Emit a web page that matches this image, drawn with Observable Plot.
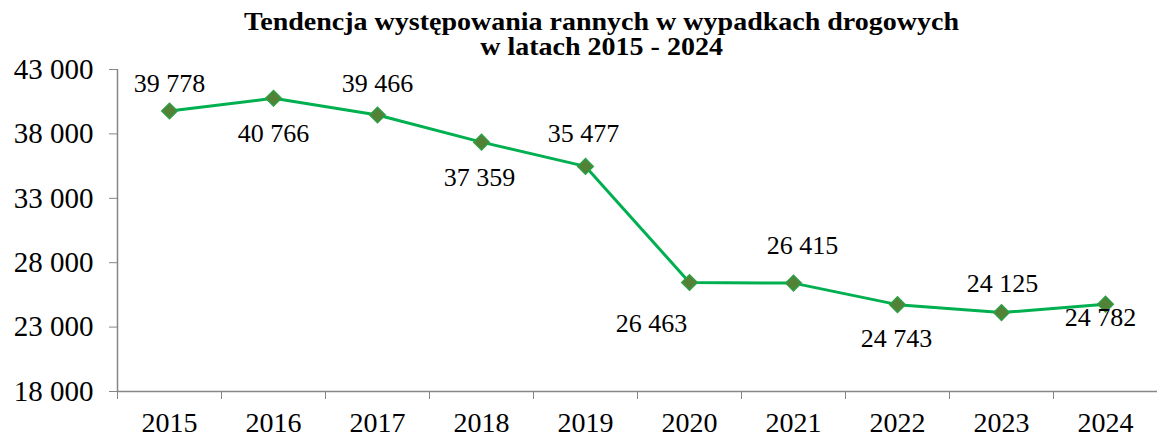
<!DOCTYPE html>
<html>
<head>
<meta charset="utf-8">
<script src="https://cdn.jsdelivr.net/npm/d3@7"></script>
<script src="https://cdn.jsdelivr.net/npm/@observablehq/plot@0.6"></script>
<style>
  html, body { margin: 0; padding: 0; background: #fff; }
  #wrap { width: 1157px; height: 438px; position: relative; overflow: hidden; }
  #title {
    height: 56px; width: 1157px; box-sizing: border-box; padding-left: 46px;
    text-align: center; font-family: "Liberation Serif", "Times New Roman", serif;
    font-weight: bold; font-size: 25px; line-height: 25px; padding-top: 9px; color: #000;
    transform: scaleX(1.12); transform-origin: 601px 0;
  }
  svg { display: block; }
  svg text { font-family: "Liberation Serif", "Times New Roman", serif !important; }
</style>
</head>
<body>
<div id="wrap">
  <div id="title">Tendencja występowania rannych w wypadkach drogowych<br>w latach 2015 - 2024</div>
  <div id="chart"></div>
</div>
<script>
const years = [2015, 2016, 2017, 2018, 2019, 2020, 2021, 2022, 2023, 2024];
const injured = [39778, 40766, 39466, 37359, 35477, 26463, 26415, 24743, 24125, 24782];
const yTicks = [18000, 23000, 28000, 33000, 38000, 43000];

// label placement (layout only)
const labelDx = [0, 0, 0, -2, -2, -38, 9, -1, 1, -5];
const labelDy = [-27, 35, -31, 36, -33, 41, -37, 34, -29, 14];

const data = years.map((y, i) => ({year: y, value: injured[i], dx: labelDx[i], dy: labelDy[i]}));
const fmt = v => d3.format(",")(v).replace(/,/g, " ");
const font = "'Liberation Serif', 'Times New Roman', serif";

const marks = [
  Plot.ruleX([2014.5], {stroke: "#868686", strokeWidth: 1.5}),
  Plot.ruleY([18000], {stroke: "#868686", strokeWidth: 1.5}),
  Plot.axisY({ticks: yTicks, tickFormat: fmt, tickSize: 8, tickPadding: 16, fontSize: 29, fontFamily: font, stroke: "#868686", fill: "#000", label: null}),
  Plot.axisX({ticks: years.map(y => y - 0.5).concat([2024.5]), tickFormat: () => "", tickSize: 8, stroke: "#868686", label: null}),
  Plot.axisX({ticks: years, tickFormat: d => String(d), tickSize: 0, tickPadding: 21, fontSize: 28, fontFamily: font, fill: "#000", label: null}),
  Plot.line(data, {x: "year", y: "value", stroke: "#00B050", strokeWidth: 3}),
  Plot.dot(data, {x: "year", y: "value", symbol: "diamond2", r: 7, fill: "#538135", stroke: "#2E9E45", strokeWidth: 1.5})
];
data.forEach(d => {
  marks.push(Plot.text([d], {x: "year", y: "value", text: d => fmt(d.value), dx: d.dx, dy: d.dy, fontSize: 26, fontFamily: font, fill: "#000"}));
});

const chart = Plot.plot({
  width: 1157,
  height: 382,
  marginTop: 13,
  marginBottom: 47,
  marginLeft: 117,
  marginRight: 0,
  style: {fontFamily: font, background: "#fff", overflow: "visible"},
  x: {domain: [2014.5, 2024.5], axis: null},
  y: {domain: [18000, 43000], axis: null},
  marks
});
document.getElementById("chart").appendChild(chart);
</script>
</body>
</html>
